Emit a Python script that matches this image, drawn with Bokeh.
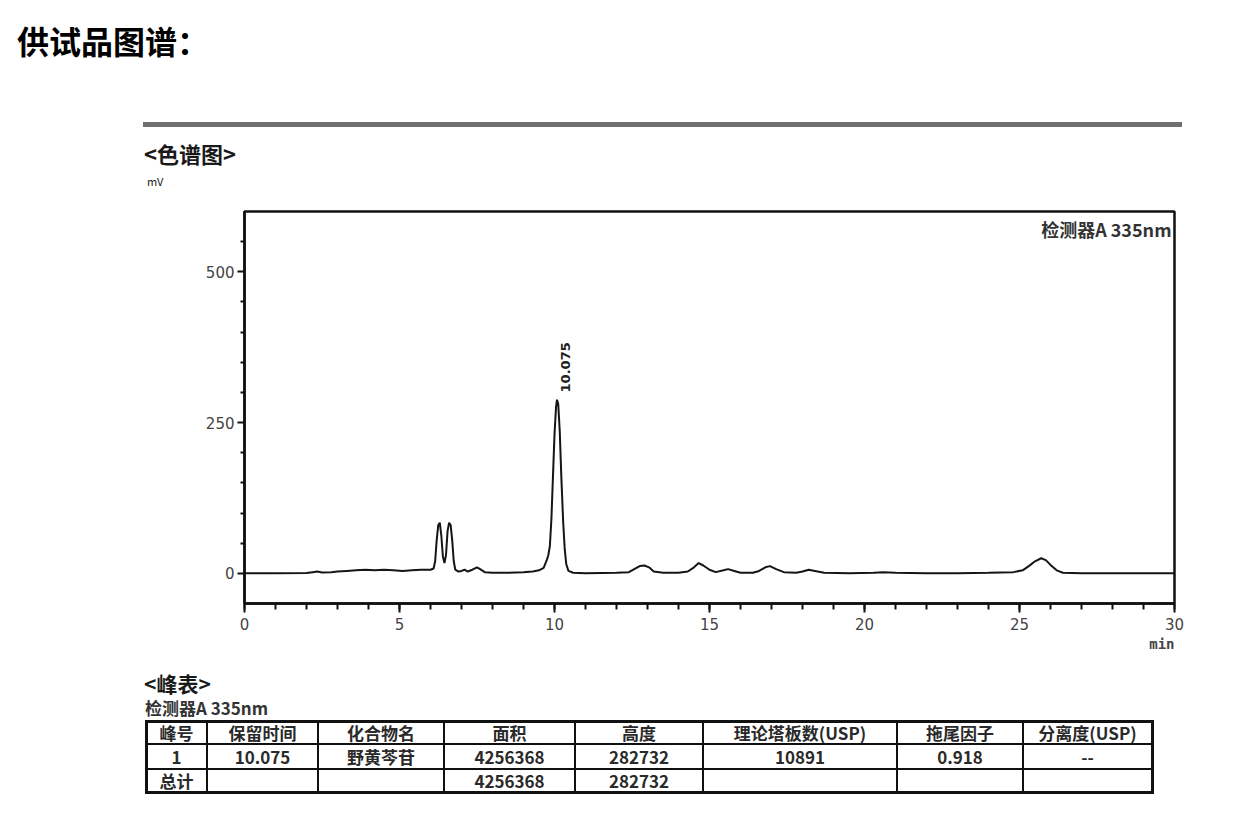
import math
from bokeh.plotting import figure
from bokeh.layouts import column
from bokeh.models import Range1d, FixedTicker, Label, Title, Div
from bokeh.embed import file_html
from bokeh.resources import INLINE

# ---------------- data ----------------
time_min = [0.0, 1.0, 2.0, 2.2, 2.35, 2.5, 2.8, 3.0, 3.3, 3.6, 3.9, 4.2, 4.5, 4.8, 5.1, 5.4, 5.7, 6.0,
            6.1, 6.15, 6.2, 6.25, 6.3, 6.35, 6.4, 6.45, 6.5, 6.55, 6.6, 6.65, 6.7, 6.75, 6.8, 6.9,
            7.0, 7.1, 7.2, 7.35, 7.5, 7.6, 7.75, 8.0, 8.5, 9.0, 9.3, 9.5, 9.65, 9.75, 9.8, 9.85,
            9.9, 9.95, 10.0, 10.05, 10.08, 10.12, 10.17, 10.22, 10.28, 10.33, 10.38, 10.45, 10.6,
            11.0, 12.0, 12.4, 12.6, 12.75, 12.9, 13.05, 13.2, 13.5, 14.0, 14.3, 14.5, 14.65, 14.8,
            15.0, 15.2, 15.45, 15.6, 15.8, 16.0, 16.4, 16.6, 16.8, 16.95, 17.15, 17.4, 17.8, 18.0,
            18.2, 18.4, 18.7, 19.5, 20.3, 20.6, 21.0, 22.0, 23.0, 24.0, 24.8, 25.1, 25.3, 25.5,
            25.7, 25.85, 26.0, 26.2, 26.4, 27.0, 28.0, 29.0, 30.0]
signal_mv = [0, 0, 0.5, 2, 3, 1.5, 2, 3, 4, 5, 6, 5, 6, 5, 4, 5, 6, 6,
             8, 20, 55, 80, 84, 62, 28, 17, 30, 70, 84, 80, 55, 20, 6, 3,
             4, 6, 3, 6, 10, 7, 2, 1, 1, 2, 3, 5, 9, 22, 30, 45,
             90, 160, 230, 276, 288, 281, 235, 160, 85, 40, 15, 4, 1,
             0, 1, 2, 8, 12, 13, 10, 3, 1, 1, 3, 10, 17, 13,
             6, 2, 5, 7, 4, 1, 1, 4, 10, 12, 7, 2, 1, 3,
             6, 4, 1, 0, 1, 2, 1, 0, 0, 1, 2, 5, 12, 20,
             25, 22, 14, 5, 1, 0, 0, 0, 0]

peak_rt = 10.075
peak_label = "10.075"
peak_label_mv = 300

x_ticks = [0, 5, 10, 15, 20, 25, 30]
x_minor = list(range(0, 31))
y_ticks = [0, 250, 500]
y_minor = [50, 100, 150, 200, 300, 350, 400, 450, 550]

page_title = "供试品图谱："
chrom_title = "&lt;色谱图&gt;"
y_unit = "mV"
x_unit = "min"
detector = "检测器A 335nm"
table_title = "&lt;峰表&gt;"

table_header = ["峰号", "保留时间", "化合物名", "面积", "高度", "理论塔板数(USP)", "拖尾因子", "分离度(USP)"]
table_row1 = ["1", "10.075", "野黄芩苷", "4256368", "282732", "10891", "0.918", "--"]
table_total = ["总计", "", "", "4256368", "282732", "", "", ""]

# ---------------- layout ----------------
W = 1250
CJK = "Noto Sans CJK SC"
FONT_CSS = "'Noto Sans CJK SC', 'Noto Sans', sans-serif"
TXT = "#1a1a1a"


def txt(left, yc, s, size, lh=None, bold=True, color=TXT, width=None, align="left"):
    lh = lh or int(size * 1.15)
    top = yc - lh / 2
    w = f"width:{width}px;" if width is not None else "white-space:nowrap;"
    return (f'<div style="position:absolute;left:{left}px;top:{top}px;{w}height:{lh}px;'
            f'line-height:{lh}px;font-size:{size}px;font-weight:{"bold" if bold else "normal"};'
            f'color:{color};text-align:{align};font-family:{FONT_CSS};">{s}</div>')


def rect(left, top, w, h, color="#111"):
    return (f'<div style="position:absolute;left:{left}px;top:{top}px;width:{w}px;'
            f'height:{h}px;background:{color};"></div>')


# header (page y 0..195)
H1 = 195
hdr_html = [
    txt(17, 40, page_title, 32, color="#000"),
    rect(143, 122, 1039, 5, "#707070"),
    txt(144, 153, chrom_title, 22),
    txt(147, 181, y_unit, 11, bold=False),
]
hdr = Div(text=f'<div style="position:relative;width:{W}px;height:{H1}px;">' + "".join(hdr_html) + "</div>",
          width=W, height=H1, margin=0)

# chart (page y 195..660)
p = figure(width=W, height=465, x_range=Range1d(0, 30), y_range=Range1d(-50, 600),
           output_backend="svg", toolbar_location=None, margin=0,
           min_border_left=244, min_border_right=W - 1174, min_border_top=16, min_border_bottom=57)
p.grid.visible = False
p.outline_line_color = "#111"
p.outline_line_width = 2.5
p.line(time_min, signal_mv, line_color="#151515", line_width=2)

p.xaxis.ticker = FixedTicker(ticks=x_ticks, minor_ticks=x_minor)
p.yaxis.ticker = FixedTicker(ticks=y_ticks, minor_ticks=y_minor)
for ax in (p.xaxis, p.yaxis):
    ax.axis_line_width = 2.5
    ax.axis_line_color = "#111"
    ax.major_tick_in = 0
    ax.minor_tick_in = 0
    ax.major_tick_line_width = 2
    ax.minor_tick_line_width = 2
    ax.major_tick_line_color = "#111"
    ax.minor_tick_line_color = "#111"
    ax.major_label_text_font = "DejaVu Sans"
    ax.major_label_text_font_size = "15px"
    ax.major_label_text_color = "#444"
p.xaxis.major_tick_out = 9
p.xaxis.minor_tick_out = 6
p.xaxis.major_label_standoff = 5
p.yaxis.major_tick_out = 7
p.yaxis.minor_tick_out = 4
p.yaxis.major_label_standoff = 3

p.add_layout(Title(text=x_unit, align="right", text_font="DejaVu Sans Mono", text_font_size="14px",
                   text_font_style="bold", text_color="#444", standoff=2, offset=0), "below")
p.add_layout(Label(x=30, y=600, x_offset=-3, y_offset=-4, text=detector, text_align="right",
                   text_baseline="top", text_font=CJK, text_font_size="18px",
                   text_font_style="bold", text_color="#333"))
p.add_layout(Label(x=peak_rt, y=peak_label_mv, x_offset=9, text=peak_label, angle=math.pi / 2,
                   text_align="left", text_baseline="middle", text_font="DejaVu Sans",
                   text_font_size="13px", text_font_style="bold", text_color="#222"))

# table (page y 660..800)
H3 = 140
col_edges = [146, 207, 318, 444, 575, 703, 897, 1023, 1152]
row_edges = [61, 84, 109, 132]
tb_html = [
    txt(144, 23, table_title, 21, lh=24),
    txt(145, 48, detector, 17, lh=18, color="#333"),
]
# outer border (3px) and inner lines (2px)
L, R = col_edges[0], col_edges[-1]
T, B = row_edges[0], row_edges[-1]
tb_html += [rect(L - 1.5, T - 1.5, R - L + 3, 3), rect(L - 1.5, B - 1.5, R - L + 3, 3),
            rect(L - 1.5, T - 1.5, 3, B - T + 3), rect(R - 1.5, T - 1.5, 3, B - T + 3)]
for yv in row_edges[1:-1]:
    tb_html.append(rect(L, yv - 1, R - L, 2))
for xv in col_edges[1:-1]:
    tb_html.append(rect(xv - 1, T, 2, B - T))
for r, vals in enumerate([table_header, table_row1, table_total]):
    yc = (row_edges[r] + row_edges[r + 1]) / 2
    for c, s in enumerate(vals):
        if s:
            tb_html.append(txt(col_edges[c], yc, s, 17, lh=20, color="#2a2a2a",
                               width=col_edges[c + 1] - col_edges[c], align="center"))
tb = Div(text=f'<div style="position:relative;width:{W}px;height:{H3}px;">' + "".join(tb_html) + "</div>",
         width=W, height=H3, margin=0)

layout = column(hdr, p, tb, spacing=0)
open("out.html", "w").write(file_html(layout, INLINE))
